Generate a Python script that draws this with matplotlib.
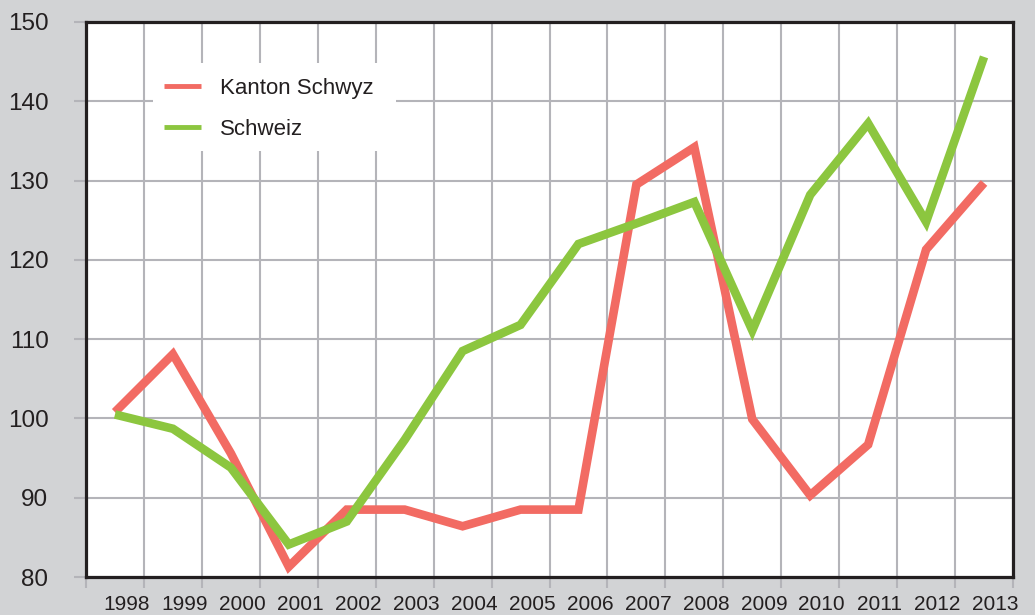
import matplotlib
matplotlib.use("Agg")
import matplotlib.pyplot as plt
from matplotlib.patches import Rectangle

plt.rcParams['font.family'] = ['Liberation Sans', 'DejaVu Sans']

# data
years = ['1998', '1999', '2000', '2001', '2002', '2003', '2004', '2005',
         '2006', '2007', '2008', '2009', '2010', '2011', '2012', '2013']
kanton_schwyz = [100.8, 108.1, 95.6, 81.3, 88.5, 88.5, 86.4, 88.5,
                 88.5, 129.5, 134.2, 99.9, 90.3, 96.7, 121.3, 129.7]
schweiz = [100.5, 98.7, 93.8, 84.1, 87.0, 97.3, 108.5, 111.8,
           122.0, 124.6, 127.3, 111.1, 128.2, 137.2, 124.8, 145.6]
yticks = [80, 90, 100, 110, 120, 130, 140, 150]

bg = '#d2d3d5'
grid_c = '#b4b4b9'
txt = '#231f20'
red = '#f26b63'
green = '#8cc63f'

fig = plt.figure(figsize=(10.35, 6.15), dpi=100, facecolor=bg)
ax = fig.add_axes([86/1035, 1 - 577/615, 927/1035, 555/615])
ax.set_facecolor('white')

n = len(years)
xs = [i + 0.5 for i in range(n)]  # points sit between the grid lines

ax.plot(xs, kanton_schwyz, color=red, lw=6.2, solid_joinstyle='miter', solid_capstyle='butt',
        zorder=4, label='Kanton Schwyz')
ax.plot(xs, schweiz, color=green, lw=6.2, solid_joinstyle='miter', solid_capstyle='butt',
        zorder=5, label='Schweiz')

ax.set_xlim(0, n)
ax.set_ylim(80, 150)

# grid lines / tick marks
ax.set_xticks(range(n + 1))
ax.set_xticklabels([])
ax.set_xticks([i + 0.7 for i in range(n)], minor=True)
ax.set_xticklabels(years, minor=True)
ax.set_yticks(yticks)
ax.set_yticklabels([str(v) for v in yticks])
ax.set_axisbelow(True)
ax.grid(True, which='major', color=grid_c, lw=1.5)
ax.tick_params(axis='x', which='major', length=8, width=1.5, color=grid_c)
ax.tick_params(axis='x', which='minor', length=0, pad=13, labelsize=15, labelcolor=txt)
ax.tick_params(axis='y', which='major', length=9, width=1.5, color=grid_c,
               pad=18, labelsize=17.5, labelcolor=txt)

for s in ax.spines.values():
    s.set_color(txt)
    s.set_linewidth(2.3)
    s.set_zorder(6)

# white box behind legend
ax.add_patch(Rectangle((0.072, 0.768), 0.262, 0.158, transform=ax.transAxes,
                       facecolor='white', edgecolor='none', zorder=2.5))
leg = ax.legend(loc='upper left', bbox_to_anchor=(0.063, 0.936), frameon=False,
                fontsize=16, handlelength=1.66, handletextpad=0.86, labelspacing=0.9)
for t in leg.get_texts():
    t.set_color(txt)
for h in leg.legend_handles:
    h.set_linewidth(3.5)

fig.savefig('out.png', dpi=100, facecolor=bg)
